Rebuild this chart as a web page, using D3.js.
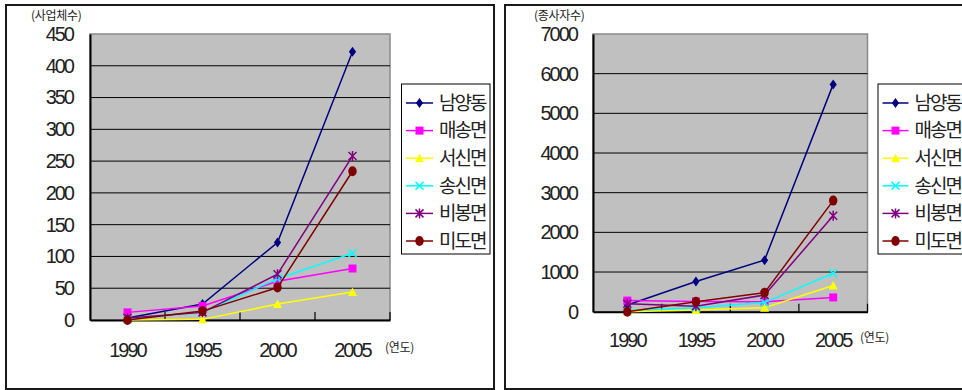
<!DOCTYPE html>
<html>
<head>
<meta charset="utf-8">
<script src="https://cdn.jsdelivr.net/npm/d3@7"></script>
<style>
  html, body { margin: 0; padding: 0; background: #fff; }
  svg { display: block; }
  .num { font-family: "Liberation Sans", Arial, sans-serif; font-size: 20px; letter-spacing: -2px; fill: #222; }
  .kr { font-family: "Noto Sans CJK KR", "Noto Sans", sans-serif; fill: #222; }
</style>
</head>
<body>
<svg id="chart" width="962" height="390"></svg>
<script>
// Years on the category axis
const years = ["1990", "1995", "2000", "2005"];

// Area names (one series each)
const areas = ["남양동", "매송면", "서신면", "송신면", "비봉면", "미도면"];

// Number of businesses (사업체수) per area, by year
const bizNamyang  = [3, 25, 122, 422];
const bizMaesong  = [12, 22, 61, 81];
const bizSeosin   = [0, 1, 25, 44];
const bizSongsin  = [2, 12, 65, 105];
const bizBibong   = [3, 12, 72, 258];
const bizMido     = [0, 14, 51, 234];

// Number of workers (종사자수) per area, by year
const empNamyang  = [170, 760, 1300, 5730];
const empMaesong  = [280, 260, 250, 360];
const empSeosin   = [0, 40, 100, 660];
const empSongsin  = [30, 100, 230, 970];
const empBibong   = [200, 140, 420, 2420];
const empMido     = [0, 250, 480, 2800];

// Value-axis tick labels
const bizTicks = [0, 50, 100, 150, 200, 250, 300, 350, 400, 450];
const empTicks = [0, 1000, 2000, 3000, 4000, 5000, 6000, 7000];

// Series styling: colour and marker kind
const seriesColors = ["#000080", "#ff00ff", "#ffff00", "#00ffff", "#800080", "#800000"];
const seriesMarkers = ["diamond", "square", "triangle", "cross", "star", "circle"];

const svg = d3.select("#chart");

function drawMarker(g, kind, color, cx, cy) {
  const m = g.append("g").attr("transform", `translate(${cx},${cy})`);
  if (kind === "diamond") {
    m.append("path").attr("d", "M0,-5L3.6,0L0,5L-3.6,0Z").attr("fill", color);
  } else if (kind === "square") {
    m.append("rect").attr("x", -4).attr("y", -4).attr("width", 8).attr("height", 8).attr("fill", color);
  } else if (kind === "triangle") {
    m.append("path").attr("d", "M0,-4.5L4.5,4L-4.5,4Z").attr("fill", color);
  } else if (kind === "cross") {
    m.append("path").attr("d", "M-4,-4L4,4M4,-4L-4,4").attr("stroke", color).attr("stroke-width", 1.6).attr("fill", "none");
  } else if (kind === "star") {
    m.append("path").attr("d", "M-4,-4L4,4M4,-4L-4,4M0,-5L0,5").attr("stroke", color).attr("stroke-width", 1.5).attr("fill", "none");
  } else if (kind === "circle") {
    m.append("ellipse").attr("rx", 4.2).attr("ry", 5).attr("fill", color);
  }
}

function drawChart(cfg) {
  const g = svg.append("g");

  // outer chart frame
  g.append("rect")
    .attr("x", cfg.frame[0]).attr("y", cfg.frame[1])
    .attr("width", cfg.frame[2]).attr("height", cfg.frame[3])
    .attr("fill", "#fff").attr("stroke", "#1a1a1a").attr("stroke-width", 2);

  const x = d3.scaleBand().domain(years).range([cfg.left, cfg.right]);
  const y = d3.scaleLinear().domain([0, d3.max(cfg.ticks)]).range([cfg.bottom, cfg.top]);
  const cx = d => x(d) + x.bandwidth() / 2;

  // plot area
  g.append("rect")
    .attr("x", cfg.left).attr("y", cfg.top)
    .attr("width", cfg.right - cfg.left).attr("height", cfg.bottom - cfg.top)
    .attr("fill", "#c0c0c0").attr("stroke", "#8a8a8a").attr("stroke-width", 1.5);

  // horizontal gridlines
  g.selectAll(".grid").data(cfg.ticks.slice(1, -1)).join("line")
    .attr("x1", cfg.left).attr("x2", cfg.right)
    .attr("y1", d => y(d)).attr("y2", d => y(d))
    .attr("stroke", "#000").attr("stroke-width", 1);

  // value axis
  const ya = g.append("g").attr("transform", `translate(${cfg.left},0)`)
    .call(d3.axisLeft(y).tickValues(cfg.ticks).tickSize(0).tickPadding(cfg.yPad).tickFormat(d3.format("d")));
  ya.select(".domain").attr("stroke", "#000").attr("stroke-width", 2);
  ya.selectAll("text").attr("class", "num").attr("font-family", null).attr("font-size", null);

  // category axis
  const xa = g.append("g").attr("transform", `translate(0,${cfg.bottom})`)
    .call(d3.axisBottom(x).tickSize(0).tickPadding(cfg.xPad));
  xa.select(".domain").attr("stroke", "#000").attr("stroke-width", 2);
  xa.selectAll("text").attr("class", "num").attr("font-family", null).attr("font-size", null);

  // tick marks on category boundaries
  const bounds = years.slice(1).map(d => x(d)).concat([cfg.right]);
  g.selectAll(".xtick").data(bounds).join("line")
    .attr("x1", d => d).attr("x2", d => d)
    .attr("y1", cfg.bottom).attr("y2", cfg.bottom - 8)
    .attr("stroke", "#000").attr("stroke-width", 1.2);

  // series lines and markers
  cfg.series.forEach((vals, i) => {
    const line = d3.line().x((d, j) => cx(years[j])).y(d => y(d));
    g.append("path").datum(vals).attr("d", line)
      .attr("fill", "none").attr("stroke", seriesColors[i]).attr("stroke-width", 1.5);
    vals.forEach((v, j) => drawMarker(g, seriesMarkers[i], seriesColors[i], cx(years[j]), y(v)));
  });

  // axis titles
  g.append("text").attr("class", "kr")
    .attr("x", cfg.titlePos[0]).attr("y", cfg.titlePos[1])
    .attr("font-size", 12).attr("letter-spacing", "-0.3px")
    .text(cfg.title);
  g.append("text").attr("class", "kr")
    .attr("x", cfg.unitPos[0]).attr("y", cfg.unitPos[1])
    .attr("font-size", 12).attr("letter-spacing", "-0.3px")
    .text("(연도)");

  // legend
  const lg = g.append("g");
  lg.append("rect")
    .attr("x", cfg.legend[0]).attr("y", cfg.legend[1])
    .attr("width", cfg.legend[2]).attr("height", cfg.legend[3])
    .attr("fill", "#fff").attr("stroke", "#000").attr("stroke-width", 1);
  areas.forEach((name, i) => {
    const yy = cfg.legend[1] + 19 + i * 27.6;
    const lx = cfg.legend[0] + 4.5;
    lg.append("line").attr("x1", lx).attr("x2", lx + cfg.legLine)
      .attr("y1", yy).attr("y2", yy)
      .attr("stroke", seriesColors[i]).attr("stroke-width", 1.5);
    drawMarker(lg, seriesMarkers[i], seriesColors[i], lx + cfg.legLine / 2, yy);
    lg.append("text").attr("class", "kr")
      .attr("x", lx + cfg.legLine + 6).attr("y", yy)
      .attr("dy", "0.36em")
      .attr("font-size", 19).attr("letter-spacing", "-2px")
      .text(name);
  });
}

drawChart({
  frame: [6, 5, 488, 384],
  left: 90, right: 390, top: 34, bottom: 320,
  ticks: bizTicks, yPad: 17, xPad: 23,
  series: [bizNamyang, bizMaesong, bizSeosin, bizSongsin, bizBibong, bizMido],
  title: "(사업체수)", titlePos: [31, 20],
  unitPos: [385, 352],
  legend: [401.5, 84, 88.5, 170], legLine: 27
});

drawChart({
  frame: [505, 5, 470, 384],
  left: 593, right: 867.5, top: 34, bottom: 311.7,
  ticks: empTicks, yPad: 16, xPad: 21,
  series: [empNamyang, empMaesong, empSeosin, empSongsin, empBibong, empMido],
  title: "(종사자수)", titlePos: [534, 20],
  unitPos: [860, 342],
  legend: [878, 84, 100, 170], legLine: 26
});
</script>
</body>
</html>
